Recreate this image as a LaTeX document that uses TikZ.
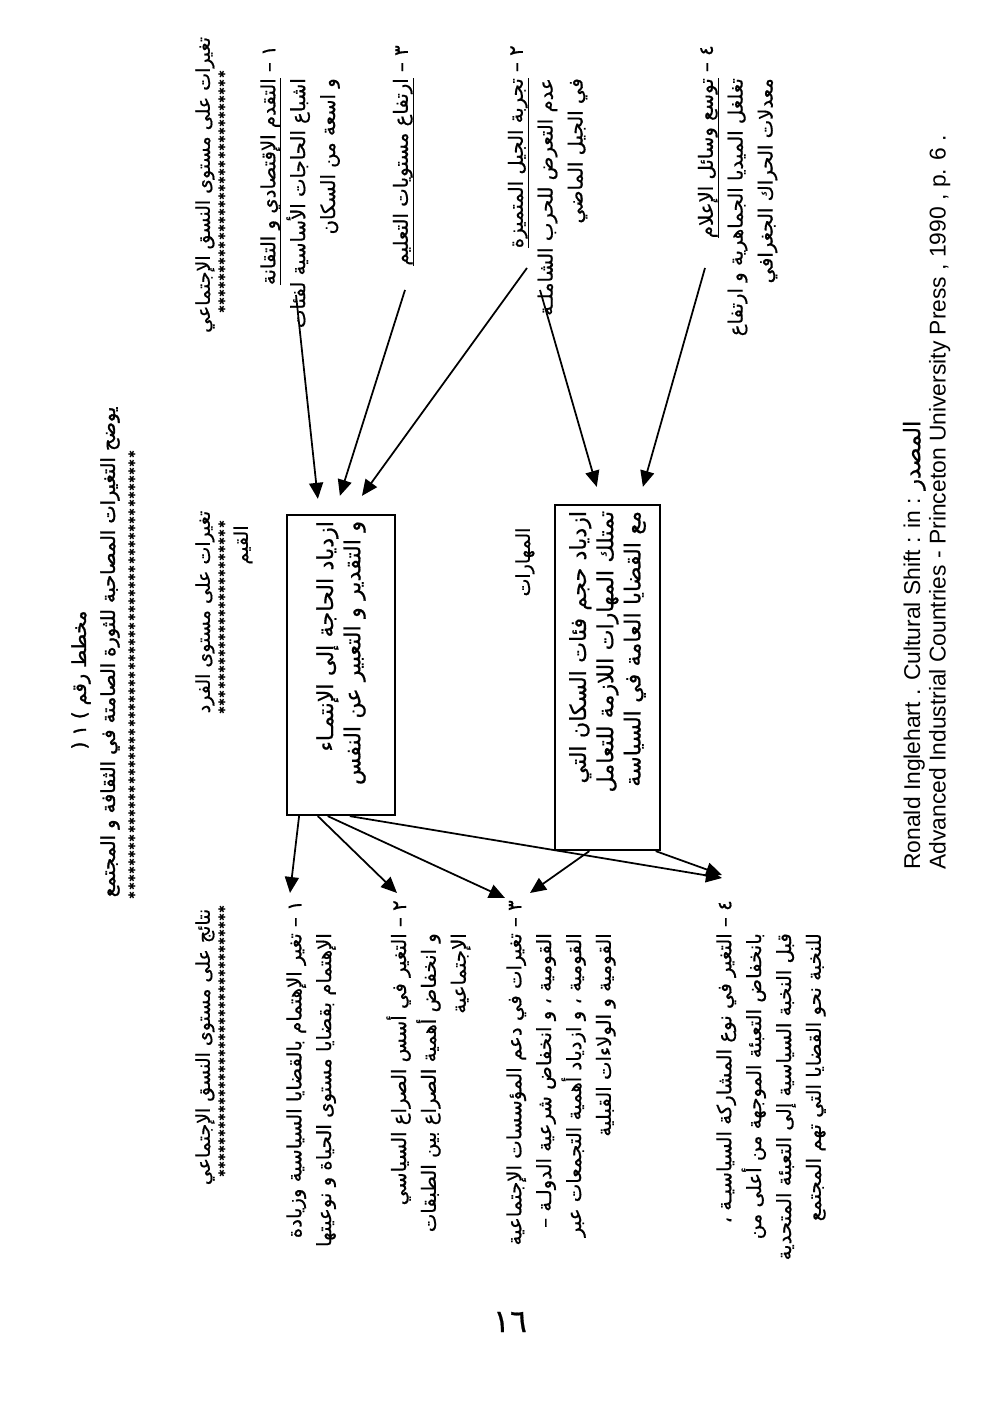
\documentclass[tikz,border=0pt]{standalone}
\usepackage{fontspec}
\setmainfont{Liberation Sans}
\newfontfamily\arabicfont[Script=Arabic, FakeBold=0.6]{DejaVu Sans}
\newfontfamily\arabicbold[Script=Arabic, FakeBold=1.6]{DejaVu Sans}
\newfontfamily\starfont{DejaVu Sans}
\TeXXeTstate=1
\usetikzlibrary{arrows.meta, calc}

\newcommand{\ar}[1]{\mbox{\arabicfont\beginR #1\endR}}
\newcommand{\arb}[1]{\mbox{\arabicbold\beginR #1\endR}}
\newcommand{\uln}[1]{\underline{\raisebox{0pt}[\height][1.5pt]{\beginR #1\endR}}}
\newcommand{\hng}{\phantom{١ – }}

\begin{document}
\begin{tikzpicture}[
        txt/.style={inner sep=0pt, align=right, font=\fontsize{11.2}{17}\selectfont},
        hdr/.style={inner sep=0pt, font=\fontsize{10.8}{13}\selectfont},
        ttl/.style={inner sep=0pt, font=\fontsize{11}{14}\selectfont},
        ast/.style={inner sep=0pt, font=\starfont\fontsize{5.4}{5.4}\selectfont},
        valbox/.style={draw, line width=1.3pt, inner sep=0.12cm, align=right, font=\fontsize{12.6}{15.5}\selectfont},
        arr/.style={-{Triangle[length=0.32cm, width=0.28cm]}, line width=1pt}
    ]
    \useasboundingbox (0,0) rectangle (20,28.14);
    \begin{scope}[rotate=90, transform shape]
        % title
        \node[ttl] (t1) at (14.54,-1.62) {\arb{مخطط رقم \beginL( ١ )\endL}};
        \node[ttl] (t2) at (15.1,-2.2) {\arb{يوضح التغيرات المصاحبة للثورة الصامتة في الثقافة و المجتمع}};
        \foreach \k in {0,...,54} \node[ast] (ts\k) at (19.04-\k*0.163,-2.64) {✱};

        % column headers
        \node[hdr] (hs) at (24.44,-4.1) {\ar{تغيرات على مستوى النسق الإجتماعي}};
        \foreach \k in {0,...,29} \node[ast] (hss\k) at (26.64-\k*0.162,-4.44) {✱};
        \node[hdr] (hf) at (15.9,-4.1) {\ar{تغيرات على مستوى الفرد}};
        \foreach \k in {0,...,23} \node[ast] (hfs\k) at (17.64-\k*0.161,-4.44) {✱};
        \node[hdr] (hr) at (7.2,-4.1) {\ar{نتائج على مستوى النسق الإجتماعي}};
        \foreach \k in {0,...,33} \node[ast] (hrs\k) at (9.94-\k*0.16,-4.44) {✱};

        % social changes
        \node[txt, anchor=north east] (it1) at (27.24,-5.2) {\ar{١ – \uln{التقدم الإقتصادي و التقانة}}\\\ar{\hng اشباع الحاجات الأساسية لفئات}\\\ar{\hng و اسعة من السكان}};
        \node[txt, anchor=north east] (it3) at (27.24,-7.85) {\ar{٣ – \uln{ارتفاع مستويات التعليم}}};
        \node[txt, anchor=north east] (it2) at (27.24,-10.15) {\ar{٢ – \uln{تجربة الجيل المتميزة}}\\\ar{\hng عدم التعرض للحرب الشاملـة}\\\ar{\hng في الجيل الماضي}};
        \node[txt, anchor=north east] (it4) at (27.24,-13.95) {\ar{٤ – \uln{توسع وسائل الإعلام}}\\\ar{\hng تغلغل الميديا الجماهرية و ارتفاع}\\\ar{\hng معدلات الحراك الجغرافي}};

        % individual level
        \node[hdr] (lq) at (17.24,-4.86) {\ar{القيم}};
        \node[valbox, text width=5.76cm, minimum height=2.16cm] (b1) at (14.84,-6.82) {\ar{ازدياد الحاجة إلى الإنتمـاء}\\\ar{و التقدير و التعبير عن النفس}};
        \node[hdr] (lm) at (16.9,-10.5) {\ar{المهارات}};
        \node[valbox, text width=6.66cm, minimum height=2.1cm] (b2) at (14.59,-12.15) {\ar{ازدياد حجم فئات السكان التي}\\\ar{تمتلك المهارات اللازمة للتعامل}\\\ar{مع القضايا العامة في السياسة}};

        % results
        \node[txt, anchor=north east] (r1) at (10.14,-5.72) {\ar{١ – تغير الإهتمام بالقضايا السياسية وزيادة}\\\ar{\hng الإهتمام بقضايا مستوى الحياة و نوعيتها}};
        \node[txt, anchor=north east] (r2) at (10.14,-7.72) {\ar{٢ – التغير في أسس الصراع السياسي}\\\ar{\hng و انخفاض أهمية الصراع بين الطبقات}\\\ar{\hng الإجتماعية}};
        \node[txt, anchor=north east] (r3) at (10.14,-10.12) {\ar{٣ – تغيرات في دعم المؤسسات الإجتماعية}\\\ar{\hng القومية ، و انخفاض شرعية الدولـة –}\\\ar{\hng القومية ، و ازدياد أهمية التجمعات عبر}\\\ar{\hng القومية و الولاءات القبلية}};
        \node[txt, anchor=north east] (r4) at (10.14,-14.32) {\ar{٤ – التغير في نوع المشاركة السياسيـة ،}\\\ar{\hng بانخفاض التعبئة الموجهة من أعلى من}\\\ar{\hng قبل النخبة السياسية إلى التعبئة المتحدية}\\\ar{\hng للنخبة نحو القضايا التي تهم المجتمع}};

        % source
        \node[inner sep=0pt, align=left, anchor=north west, font=\fontsize{13}{14.5}\selectfont] (src) at (10.74,-18.05) {Ronald Inglehart . Cultural Shift : in : \ar{المصدر}\\Advanced Industrial Countries - Princeton University Press , 1990 , p. 6 .};

        % arrows into the boxes
        \draw[arr] ($(it1.north east)+(-5.0,-0.72)$) -- ($(b1.north east)!0.29!(b1.south east)+(0.3,0)$);
        \draw[arr] ($(it3.north east)+(-4.9,-0.25)$) -- ($(b1.north east)!0.49!(b1.south east)+(0.36,0)$);
        \draw[arr] ($(it2.north east)+(-4.46,-0.39)$) -- ($(b1.north east)!0.69!(b1.south east)+(0.36,0)$);
        \draw[arr] ($(it2.north east)+(-4.9,-0.65)$) -- ($(b2.north east)!0.4!(b2.south east)+(0.34,0)$);
        \draw[arr] ($(it4.north east)+(-4.46,-0.15)$) -- ($(b2.north east)!0.83!(b2.south east)+(0.34,0)$);

        % arrows to the results
        \draw[arr] ($(b1.north west)!0.12!(b1.south west)$) -- ($(r1.north east)+(0.14,-0.08)$);
        \draw[arr] ($(b1.north west)!0.29!(b1.south west)$) -- ($(r2.north east)+(0.14,-0.22)$);
        \draw[arr] ($(b1.north west)!0.38!(b1.south west)$) -- ($(r3.north east)+(0.04,0.02)$);
        \draw[arr] ($(b1.north west)!0.58!(b1.south west)$) -- ($(r4.north east)+(0.44,-0.12)$);
        \draw[arr] ($(b2.north west)!0.33!(b2.south west)$) -- ($(r3.north east)+(0.14,-0.48)$);
        \draw[arr] ($(b2.north west)!0.95!(b2.south west)$) -- ($(r4.north east)+(0.5,-0.12)$);
    \end{scope}
    \node[font=\arabicfont\fontsize{18}{18}\selectfont] (pg) at (10.2,1.7) {١٦};
\end{tikzpicture}
\end{document}
